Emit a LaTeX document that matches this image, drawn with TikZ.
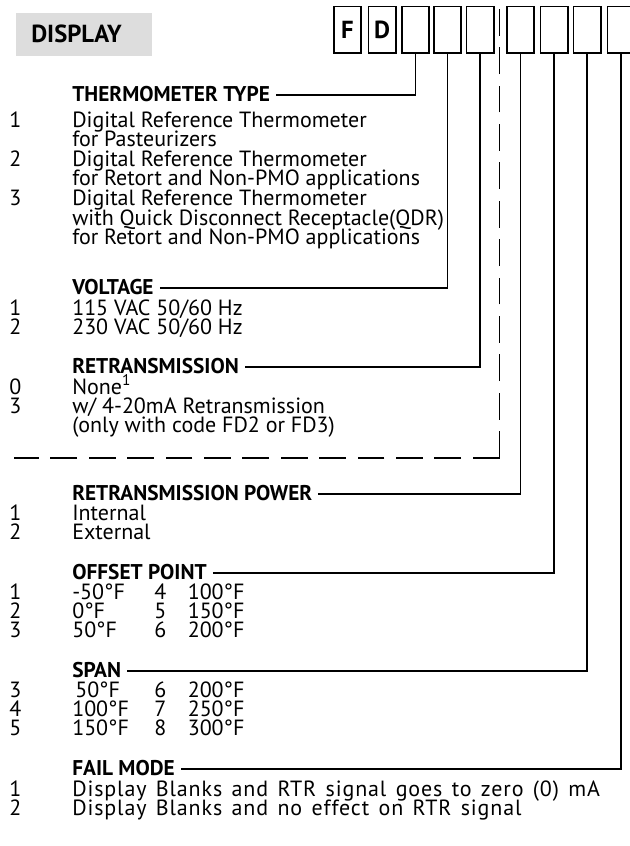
\documentclass[tikz,border=0pt]{standalone}
\usepackage{fontspec}
\setmainfont{PT Sans}
\definecolor{dgray}{RGB}{221,221,221}
\begin{document}
\begin{tikzpicture}[x=0.75pt,y=-0.75pt,
  codebox/.style={draw, line width=1.35pt, minimum width=20.4pt, minimum height=34.9pt, inner sep=0pt, font=\bfseries\fontsize{18.5}{18.5}\selectfont},
  hd/.style={font=\bfseries\fontsize{16}{16}\selectfont, anchor=base west, inner sep=0pt},
  tx/.style={font=\fontsize{16.5}{16.5}\selectfont, anchor=base west, inner sep=0pt},
  wide/.style={tx, font=\fontsize{16.5}{16.5}\selectfont\addfontfeatures{LetterSpace=4}, execute at begin node={\spaceskip=7pt\relax}},
  conn/.style={line width=1.15pt},
  dsh/.style={line width=1.15pt, dash pattern=on 20.1pt off 8.7pt}]
\clip (0,0) rectangle (630,846);
% header
\node[fill=dgray, minimum width=102pt, minimum height=32.2pt, inner sep=0pt] (dbox) at (84,34.5) {};
\node[font=\bfseries\fontsize{18.5}{18.5}\selectfont, anchor=base west, inner sep=0pt] (dtxt) at (31,42) {DISPLAY};
% code boxes
\node[codebox] (bF) at (347.5,29.75) {F};
\node[codebox] (bD) at (382,29.75) {D};
\node[codebox] (b3) at (415.5,29.75) {};
\node[codebox] (b4) at (447.5,29.75) {};
\node[codebox] (b5) at (480,29.75) {};
\node[codebox] (b6) at (520.5,29.75) {};
\node[codebox] (b7) at (554,29.75) {};
\node[codebox] (b8) at (587,29.75) {};
\node[codebox] (b9) at (621,29.75) {};
% THERMOMETER TYPE
\node[hd] (h1) at (72,101) {THERMOMETER TYPE};
\node[tx] (n11) at (9,127) {1};
\node[tx] (t11) at (72,127) {Digital Reference Thermometer};
\node[tx] (t12) at (72,146) {for Pasteurizers};
\node[tx] (n12) at (9,166) {2};
\node[tx] (t13) at (72,166) {Digital Reference Thermometer};
\node[tx] (t14) at (72,185) {for Retort and Non-PMO applications};
\node[tx] (n13) at (9,205) {3};
\node[tx] (t15) at (72,205) {Digital Reference Thermometer};
\node[tx] (t16) at (72,225) {with Quick Disconnect Receptacle(QDR)};
\node[tx] (t17) at (72,244) {for Retort and Non-PMO applications};
% VOLTAGE
\node[hd] (h2) at (72,294) {VOLTAGE};
\node[tx] (n21) at (9,315) {1};
\node[tx] (t21) at (72,315) {115 VAC 50/60 Hz};
\node[tx] (n22) at (9,334) {2};
\node[tx] (t22) at (72,334) {230 VAC 50/60 Hz};
% RETRANSMISSION
\node[hd] (h3) at (72,373) {RETRANSMISSION};
\node[tx] (n31) at (9,394) {0};
\node[tx] (t31) at (72,394) {None\textsuperscript{1}};
\node[tx] (n32) at (9,413) {3};
\node[tx] (t32) at (72,413) {w/ 4-20mA Retransmission};
\node[tx] (t33) at (72,432) {(only with code FD2 or FD3)};
% RETRANSMISSION POWER
\node[hd] (h4) at (72,500) {RETRANSMISSION POWER};
\node[tx] (n41) at (9,520) {1};
\node[tx] (t41) at (72,520) {Internal};
\node[tx] (n42) at (9,539) {2};
\node[tx] (t42) at (72,539) {External};
% OFFSET POINT
\node[hd] (h5) at (72,579) {OFFSET POINT};
\node[tx] (n51) at (9,599) {1};
\node[tx] (t51) at (72,599) {-50°F};
\node[tx] (m51) at (154,599) {4};
\node[tx] (u51) at (187.5,599) {100°F};
\node[tx] (n52) at (9,618) {2};
\node[tx] (t52) at (72,618) {0°F};
\node[tx] (m52) at (154,618) {5};
\node[tx] (u52) at (187.5,618) {150°F};
\node[tx] (n53) at (9,637) {3};
\node[tx] (t53) at (72,637) {50°F};
\node[tx] (m53) at (154,637) {6};
\node[tx] (u53) at (187.5,637) {200°F};
% SPAN
\node[hd] (h6) at (72,677) {SPAN};
\node[tx] (n61) at (9,697) {3};
\node[tx] (t61) at (75,697) {50°F};
\node[tx] (m61) at (154,697) {6};
\node[tx] (u61) at (187.5,697) {200°F};
\node[tx] (n62) at (9,716) {4};
\node[tx] (t62) at (72,716) {100°F};
\node[tx] (m62) at (154,716) {7};
\node[tx] (u62) at (187.5,716) {250°F};
\node[tx] (n63) at (9,735) {5};
\node[tx] (t63) at (72,735) {150°F};
\node[tx] (m63) at (154,735) {8};
\node[tx] (u63) at (187.5,735) {300°F};
% FAIL MODE
\node[hd] (h7) at (72,775) {FAIL MODE};
\node[tx] (n71) at (9,796) {1};
\node[wide] (t71) at (72,796) {Display Blanks and RTR signal goes to zero (0) mA};
\node[tx] (n72) at (9,815) {2};
\node[wide] (t72) at (72,815) {Display Blanks and no effect on RTR signal};
% connectors
\draw[conn] ([shift={(6,-6)}]h1.base east) -| (b3.south);
\draw[conn] ([shift={(6,-6)}]h2.base east) -| (b4.south);
\draw[conn] ([shift={(6,-6)}]h3.base east) -| (b5.south);
\draw[conn] ([shift={(6,-6)}]h4.base east) -| (b6.south);
\draw[conn] ([shift={(6,-6)}]h5.base east) -| (b7.south);
\draw[conn] ([shift={(6,-6)}]h6.base east) -| (b8.south);
\draw[conn] ([shift={(6,-6)}]h7.base east) -| (b9.south);
% dashed separator
\coordinate (dtop) at (499.5,6);
\coordinate (dcorner) at (499.5,458);
\coordinate (dleft) at (14,458);
\draw[dsh] (dcorner) -- (dtop);
\draw[dsh] (dcorner) -- (dleft);
\end{tikzpicture}
\end{document}
